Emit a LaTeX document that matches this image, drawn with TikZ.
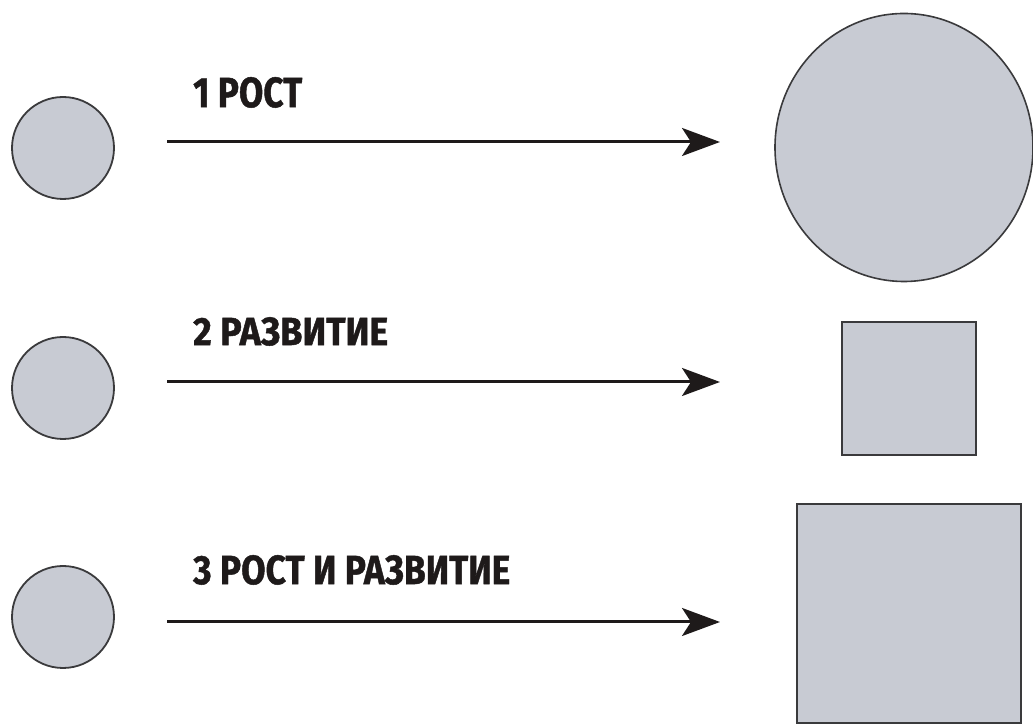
\documentclass[tikz,border=0pt]{standalone}
\usepackage{fontspec}
\setmainfont{Fira Sans}
\newfontfamily\lblfont{Fira Sans}[UprightFont=* Bold,FakeBold=1.2]
\usetikzlibrary{arrows.meta,shapes.geometric}
\definecolor{shapefill}{HTML}{C8CBD3}
\definecolor{shapeline}{HTML}{3A3A3C}
\definecolor{ink}{HTML}{1E1A1A}
\tikzset{
  x=1pt,y=1pt,
  smallcirc/.style={circle,draw=shapeline,fill=shapefill,line width=1.8pt,minimum size=102pt,inner sep=0pt},
  bigshape/.style={draw=shapeline,fill=shapefill,line width=1.6pt,inner sep=0pt},
  conn/.style={draw=ink,line width=3pt,-{Stealth[length=38pt,width=28pt,inset=9pt]}},
  lbl/.style={anchor=south west,inner sep=0pt,text=ink,font=\lblfont}
}
\begin{document}
\begin{tikzpicture}
\useasboundingbox (0,0) rectangle (1033,727);
% left circles
\node[smallcirc] (c1) at (63,579) {};
\node[smallcirc] (c2) at (63,339) {};
\node[smallcirc] (c3) at (63,110) {};
% right shapes
\node[bigshape,ellipse,minimum width=258pt,minimum height=268pt] (r1) at (904,579.5) {};
\node[bigshape,rectangle,minimum width=134pt,minimum height=133pt] (r2) at (909,338.5) {};
\node[bigshape,rectangle,minimum width=224pt,minimum height=219pt] (r3) at (909,113.5) {};
% arrow coordinates
\coordinate (a1s) at (167,585);
\coordinate (a1e) at (720,585);
\coordinate (a2s) at (167,345);
\coordinate (a2e) at (720,345);
\coordinate (a3s) at (167,105);
\coordinate (a3e) at (720,105);
\draw[conn] (a1s) -- (a1e);
\draw[conn] (a2s) -- (a2e);
\draw[conn] (a3s) -- (a3e);
% labels
\node[lbl] (l1) at (193,619) {\resizebox{109pt}{30pt}{1 РОСТ}};
\node[lbl] (l2) at (193,381) {\resizebox{195pt}{28pt}{2 РАЗВИТИЕ}};
\node[lbl] (l3) at (193,142) {\resizebox{317pt}{29pt}{3 РОСТ И РАЗВИТИЕ}};
\end{tikzpicture}
\end{document}
